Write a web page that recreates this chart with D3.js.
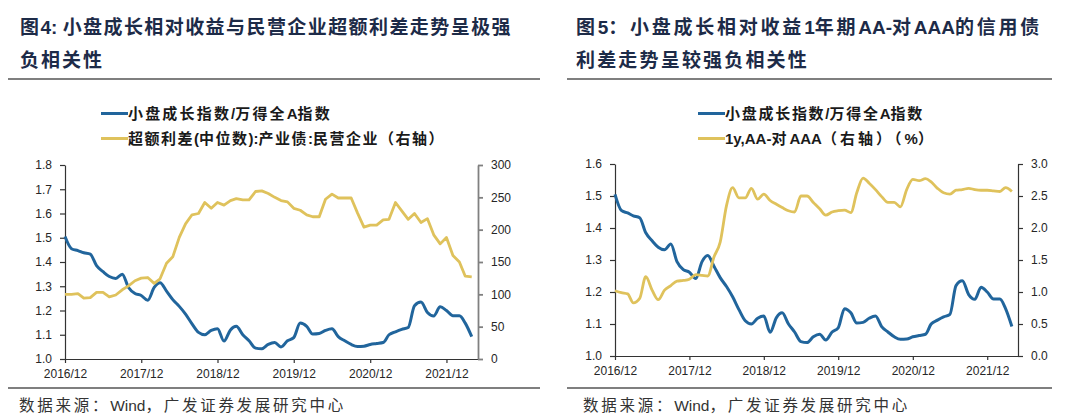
<!DOCTYPE html>
<html>
<head>
<meta charset="utf-8">
<script src="https://cdn.jsdelivr.net/npm/d3@7"></script>
<style>
  body { margin: 0; background: #fff; }
  svg { display: block; }
</style>
</head>
<body>
<div id="chart"></div>
<script>
// monthly points, 2016/12 .. 2022/04
var months = d3.timeMonth.range(new Date(2016, 11, 1), new Date(2022, 4, 2));

var xTickDates = [new Date(2016, 11, 1), new Date(2017, 11, 1), new Date(2018, 11, 1),
                  new Date(2019, 11, 1), new Date(2020, 11, 1), new Date(2021, 11, 1)];
var xTickLabels = ["2016/12", "2017/12", "2018/12", "2019/12", "2020/12", "2021/12"];

// 小盘成长指数/万得全A指数 (same series in both charts)
var smallCapRatio = [1.505, 1.455, 1.447, 1.438, 1.432, 1.385, 1.36, 1.34, 1.332, 1.35, 1.295, 1.27,
  1.262, 1.242, 1.295, 1.314, 1.28, 1.245, 1.217, 1.185, 1.145, 1.11, 1.10, 1.118,
  1.125, 1.074, 1.12, 1.135, 1.1, 1.075, 1.045, 1.042, 1.06, 1.068, 1.05, 1.075,
  1.088, 1.148, 1.135, 1.103, 1.105, 1.118, 1.125, 1.092, 1.075, 1.06, 1.052, 1.053,
  1.06, 1.064, 1.068, 1.1, 1.112, 1.122, 1.13, 1.22, 1.235, 1.192, 1.177, 1.215,
  1.2, 1.178, 1.178, 1.148, 1.092];

// 超额利差(中位数):产业债:民营企业 (bp, right axis)
var privateSpread = [100, 100, 101, 94, 95, 103, 103, 96, 99, 107, 113, 121,
  125, 126, 117, 124, 148, 158, 188, 209, 223, 225, 242, 233,
  242, 238, 245, 248, 246, 246, 259, 260, 256, 250, 245, 243,
  233, 230, 223, 220, 220, 247, 255, 249, 249, 249, 226, 204,
  207, 207, 215, 216, 242, 229, 216, 225, 211, 217, 192, 178,
  188, 160, 150, 128, 127];

// 1y, AA- 对 AAA (%, right axis)
var aaSpread = [1.02, 0.99, 0.97, 0.83, 0.9, 1.24, 1.03, 0.88, 1.03, 1.1, 1.17, 1.18,
  1.2, 1.27, 1.26, 1.25, 1.55, 1.78, 2.35, 2.63, 2.47, 2.47, 2.62, 2.45,
  2.53, 2.43, 2.37, 2.32, 2.27, 2.25, 2.5, 2.5, 2.4, 2.3, 2.2, 2.25,
  2.27, 2.28, 2.24, 2.55, 2.78, 2.7, 2.6, 2.49, 2.4, 2.4, 2.33, 2.6,
  2.76, 2.74, 2.77, 2.72, 2.62, 2.55, 2.53, 2.59, 2.6, 2.62, 2.6, 2.59,
  2.59, 2.58, 2.57, 2.63, 2.57];

var ticksLeftA = [1.0, 1.1, 1.2, 1.3, 1.4, 1.5, 1.6, 1.7, 1.8];
var ticksRightA = [0, 50, 100, 150, 200, 250, 300];
var ticksLeftB = [1.0, 1.1, 1.2, 1.3, 1.4, 1.5, 1.6];
var ticksRightB = [0.0, 0.5, 1.0, 1.5, 2.0, 2.5, 3.0];

var titleA = ["图4: 小盘成长相对收益与民营企业超额利差走势呈极强", "负相关性"];
var titleB = ["图5：小盘成长相对收益1年期AA-对AAA的信用债", "利差走势呈较强负相关性"];
var legendA = ["小盘成长指数/万得全A指数", "超额利差(中位数):产业债:民营企业（右轴）"];
var legendB = ["小盘成长指数/万得全A指数", "1y,AA-对AAA（右轴）（%）"];
var source = "数据来源：Wind，广发证券发展研究中心";

var blue = "#21659c", yellow = "#dfc25c";
var cjk = "'Noto Sans CJK SC', sans-serif";
var latin = "'Liberation Sans', Arial, sans-serif";

var svg = d3.select("#chart").append("svg")
  .attr("width", 1070)
  .attr("height", 419);

// chinese runs in the CJK font, latin runs in Arial-like font,
// spacing put on the chinese glyphs so the line ends where the picture's does
function mixedText(parent, str, x, y, size, weight, fill, width) {
  var t = parent.append("text")
    .attr("x", x).attr("y", y)
    .attr("font-size", size)
    .attr("font-weight", weight)
    .attr("fill", fill);
  var runs = str.match(/[\u3000-\u9fff\uff00-\uffef]+|[^\u3000-\u9fff\uff00-\uffef]+/g);
  var nCjk = 0;
  runs.forEach(function(r) {
    var isCjk = /[\u3000-\u9fff\uff00-\uffef]/.test(r);
    if (isCjk) nCjk += r.length;
    t.append("tspan")
      .attr("class", isCjk ? "c" : "l")
      .attr("font-family", isCjk ? cjk : latin)
      .text(r);
  });
  var w = t.node().getComputedTextLength();
  var ls = Math.max(0, (width - w) / nCjk);
  t.selectAll("tspan.c").attr("letter-spacing", ls);
  return t;
}

function drawPanel(p) {
  var g = svg.append("g");

  // title + rules
  p.title.forEach(function(s, i) {
    mixedText(g, s, p.titleX, 34 + i * 33, 19, "bold", "#1d2b48", p.titleW[i]);
  });

  [79, 388].forEach(function(yy) {
    g.append("line")
      .attr("x1", p.ruleX[0]).attr("x2", p.ruleX[1])
      .attr("y1", yy).attr("y2", yy)
      .attr("stroke", "#555").attr("stroke-width", 1.3);
  });

  mixedText(g, source, p.sourceX, 411, 15.5, "normal", "#333", 327);

  // legend
  p.legend.forEach(function(s, i) {
    var yy = 113.5 + i * 25;
    g.append("line")
      .attr("x1", p.legendX - 27).attr("x2", p.legendX)
      .attr("y1", yy).attr("y2", yy)
      .attr("stroke", i == 0 ? blue : yellow)
      .attr("stroke-width", 3);
    mixedText(g, s, p.legendX, yy + 5.5, 15, "bold", "#1a1a1a", p.legendW[i]);
  });

  // scales
  var x = d3.scaleTime()
    .domain([months[0], months[months.length - 1]])
    .range([p.x0, p.x1]);
  var yL = d3.scaleLinear().domain(p.leftDomain).range([p.y1, p.y0]);
  var yR = d3.scaleLinear().domain(p.rightDomain).range([p.y1, p.y0]);

  // axes
  var ax = g.append("g")
    .attr("transform", "translate(0," + p.y1 + ")")
    .call(d3.axisBottom(x).tickValues(xTickDates).tickSize(4).tickSizeOuter(0).tickPadding(4)
      .tickFormat(function(d, i) { return xTickLabels[i]; }));
  var al = g.append("g")
    .attr("transform", "translate(" + p.x0 + ",0)")
    .call(d3.axisLeft(yL).tickValues(p.leftTicks).tickSize(5).tickSizeOuter(0).tickPadding(8)
      .tickFormat(d3.format(".1f")));
  var ar = g.append("g")
    .attr("transform", "translate(" + p.x1 + ",0)")
    .call(d3.axisRight(yR).tickValues(p.rightTicks).tickSize(5).tickSizeOuter(0).tickPadding(8)
      .tickFormat(p.rightFormat));

  [ax, al, ar].forEach(function(a) {
    a.selectAll("text").attr("font-family", latin).attr("font-size", 12).attr("fill", "#262626");
    a.selectAll("path, line").attr("stroke", "#333").attr("stroke-width", 1.2);
  });
  ar.selectAll("path, line").attr("stroke", p.rightAxisColor).attr("stroke-width", p.rightAxisWidth);
  ax.selectAll("text").attr("dy", "0.9em");

  // lines
  var blueLine = d3.line()
    .x(function(d, i) { return x(months[i]); })
    .y(function(d) { return yL(d); })
    .curve(d3.curveMonotoneX);
  var yellowLine = d3.line()
    .x(function(d, i) { return x(months[i]); })
    .y(function(d) { return yR(d); })
    .curve(p.yellowCurve);

  g.append("path").datum(smallCapRatio)
    .attr("d", blueLine)
    .attr("fill", "none").attr("stroke", blue).attr("stroke-width", 3)
    .attr("stroke-linejoin", "round");
  g.append("path").datum(p.rightSeries)
    .attr("d", yellowLine)
    .attr("fill", "none").attr("stroke", yellow).attr("stroke-width", 2.8)
    .attr("stroke-linejoin", "round");
}

drawPanel({
  title: titleA, titleW: [492, 84], titleX: 20, ruleX: [8, 540], sourceX: 19,
  legend: legendA, legendX: 128, legendW: [204, 317],
  x0: 65, x1: 478, y0: 165, y1: 359,
  leftDomain: [1.0, 1.8], rightDomain: [0, 300],
  leftTicks: ticksLeftA, rightTicks: ticksRightA, rightFormat: d3.format("d"),
  rightAxisColor: "#808080", rightAxisWidth: 1.8,
  rightSeries: privateSpread, yellowCurve: d3.curveLinear
});

drawPanel({
  title: titleB, titleW: [466, 233], titleX: 576, ruleX: [567, 1052], sourceX: 583,
  legend: legendB, legendX: 725, legendW: [199, 211],
  x0: 615, x1: 1018, y0: 164, y1: 356,
  leftDomain: [1.0, 1.6], rightDomain: [0, 3.0],
  leftTicks: ticksLeftB, rightTicks: ticksRightB, rightFormat: d3.format(".1f"),
  rightAxisColor: "#333", rightAxisWidth: 1.2,
  rightSeries: aaSpread, yellowCurve: d3.curveMonotoneX
});
</script>
</body>
</html>
